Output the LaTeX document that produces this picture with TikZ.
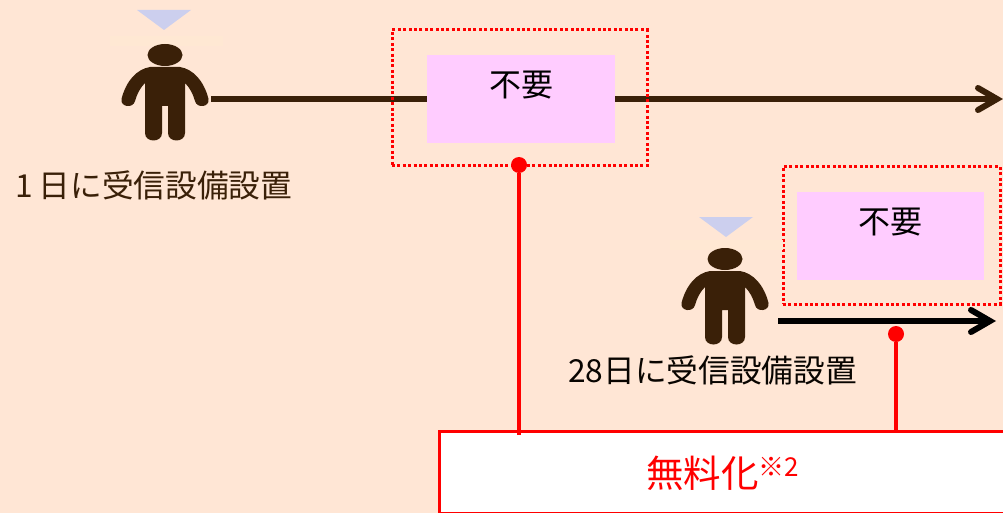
\documentclass[tikz,border=0pt]{standalone}
\usepackage{fontspec}
\setmainfont{Noto Sans CJK JP}
\usetikzlibrary{arrows.meta}
\definecolor{bgc}{HTML}{FFE6D5}
\definecolor{pinkc}{HTML}{FFCCFF}
\definecolor{brownc}{HTML}{3A2008}
\definecolor{tric}{HTML}{CCCFEE}
\definecolor{glowc}{HTML}{FFE8D3}
\tikzset{
  x=1pt,y=-1pt,
  dotbox/.style={draw=red,line width=3pt,dash pattern=on 3pt off 2.4pt,fill=none,minimum width=#1,inner sep=0pt,outer sep=0pt},
  pinkbox/.style={fill=pinkc,inner sep=0pt,outer sep=0pt},
  lab/.style={inner sep=0pt,font=\fontsize{32}{32}\selectfont},
  sublab/.style={inner sep=0pt,font=\fontsize{31.7}{32}\selectfont},
  barrow/.style={line width=6pt,-{Straight Barb[length=19pt,width=22pt,line cap=round,line width=6pt]}},
  rdot/.style={circle,fill=red,minimum size=16pt,inner sep=0pt,outer sep=0pt},
  redline/.style={draw=red,line width=3.4pt},
  person/.pic={
    \fill[glowc] (-55,-19) rectangle (58,-9);
    \fill[brownc] (0,0) ellipse[x radius=17.5pt,y radius=11pt];
    \fill[brownc]
      (-15,12) .. controls (-28,14) and (-39,26) .. (-43.5,44)
      .. controls (-45,52) and (-32,54) .. (-30,46)
      .. controls (-28,39) and (-25,33) .. (-20,28)
      -- (-20,78) .. controls (-20,88) and (-3,88) .. (-3,78)
      -- (-3,51) -- (3,51) -- (3,78)
      .. controls (3,88) and (20,88) .. (20,78)
      -- (20,28)
      .. controls (25,33) and (28,39) .. (30,46)
      .. controls (32,54) and (45,52) .. (43.5,44)
      .. controls (39,26) and (28,14) .. (15,12) -- cycle;
  }
}
\begin{document}
\begin{tikzpicture}
\useasboundingbox (0,0) rectangle (1003,513);
\clip (0,0) rectangle (1003,513);
\fill[bgc] (0,0) rectangle (1003,513);
% first person's arrow
\coordinate (a1s) at (211,99);
\coordinate (a1e) at (1003,99);
\draw[brownc,barrow] (a1s) -- (a1e);
% dotted frames and pink boxes
\node[dotbox=255pt,draw,minimum height=136pt,anchor=north west] (f1) at (392,30) {};
\node[pinkbox,minimum width=188pt,minimum height=88pt,anchor=north west] (p1) at (427,55) {};
\node[lab,anchor=center] (t1) at (521,85) {不要};
\node[dotbox=217pt,draw,minimum height=137pt,anchor=north west] (f2) at (783,167) {};
\node[pinkbox,minimum width=187pt,minimum height=88pt,anchor=north west] (p2) at (797,192) {};
\node[lab,anchor=center] (t2) at (890,222) {不要};
% persons
\pic at (165,55) {person};
\pic at (725,259) {person};
\fill[tric] (137,10) -- (191,10) -- (164,30) -- cycle;
\fill[tric] (699,217) -- (753,217) -- (726,237) -- cycle;
\node[sublab,text=brownc,anchor=west] (l1) at (15,185) {1\hspace{6pt}日に受信設備設置};
\node[sublab,text=black!85!brownc,anchor=west] (l2) at (568,370) {28日に受信設備設置};
% second arrow
\coordinate (a2s) at (778,321);
\coordinate (a2e) at (996,321);
\draw[black,barrow] (a2s) -- (a2e);
% free box
\node[draw=red,line width=3pt,fill=white,minimum width=575pt,minimum height=82pt,anchor=north west,inner sep=0pt,outer sep=0pt] (mf) at (439,431) {};
\node[inner sep=0pt,text=red,anchor=base west] (mt) at (646,487) {\fontsize{37.5}{37.5}\selectfont 無料化\raisebox{11pt}{\fontsize{26}{26}\selectfont ※2}};
% dots and connectors
\node[rdot] (d1) at (519,165) {};
\node[rdot] (d2) at (896,334) {};
\coordinate (e1) at (519,435);
\coordinate (e2) at (896,431);
\draw[redline] (d1) -- (e1);
\draw[redline] (d2) -- (e2);
\end{tikzpicture}
\end{document}
